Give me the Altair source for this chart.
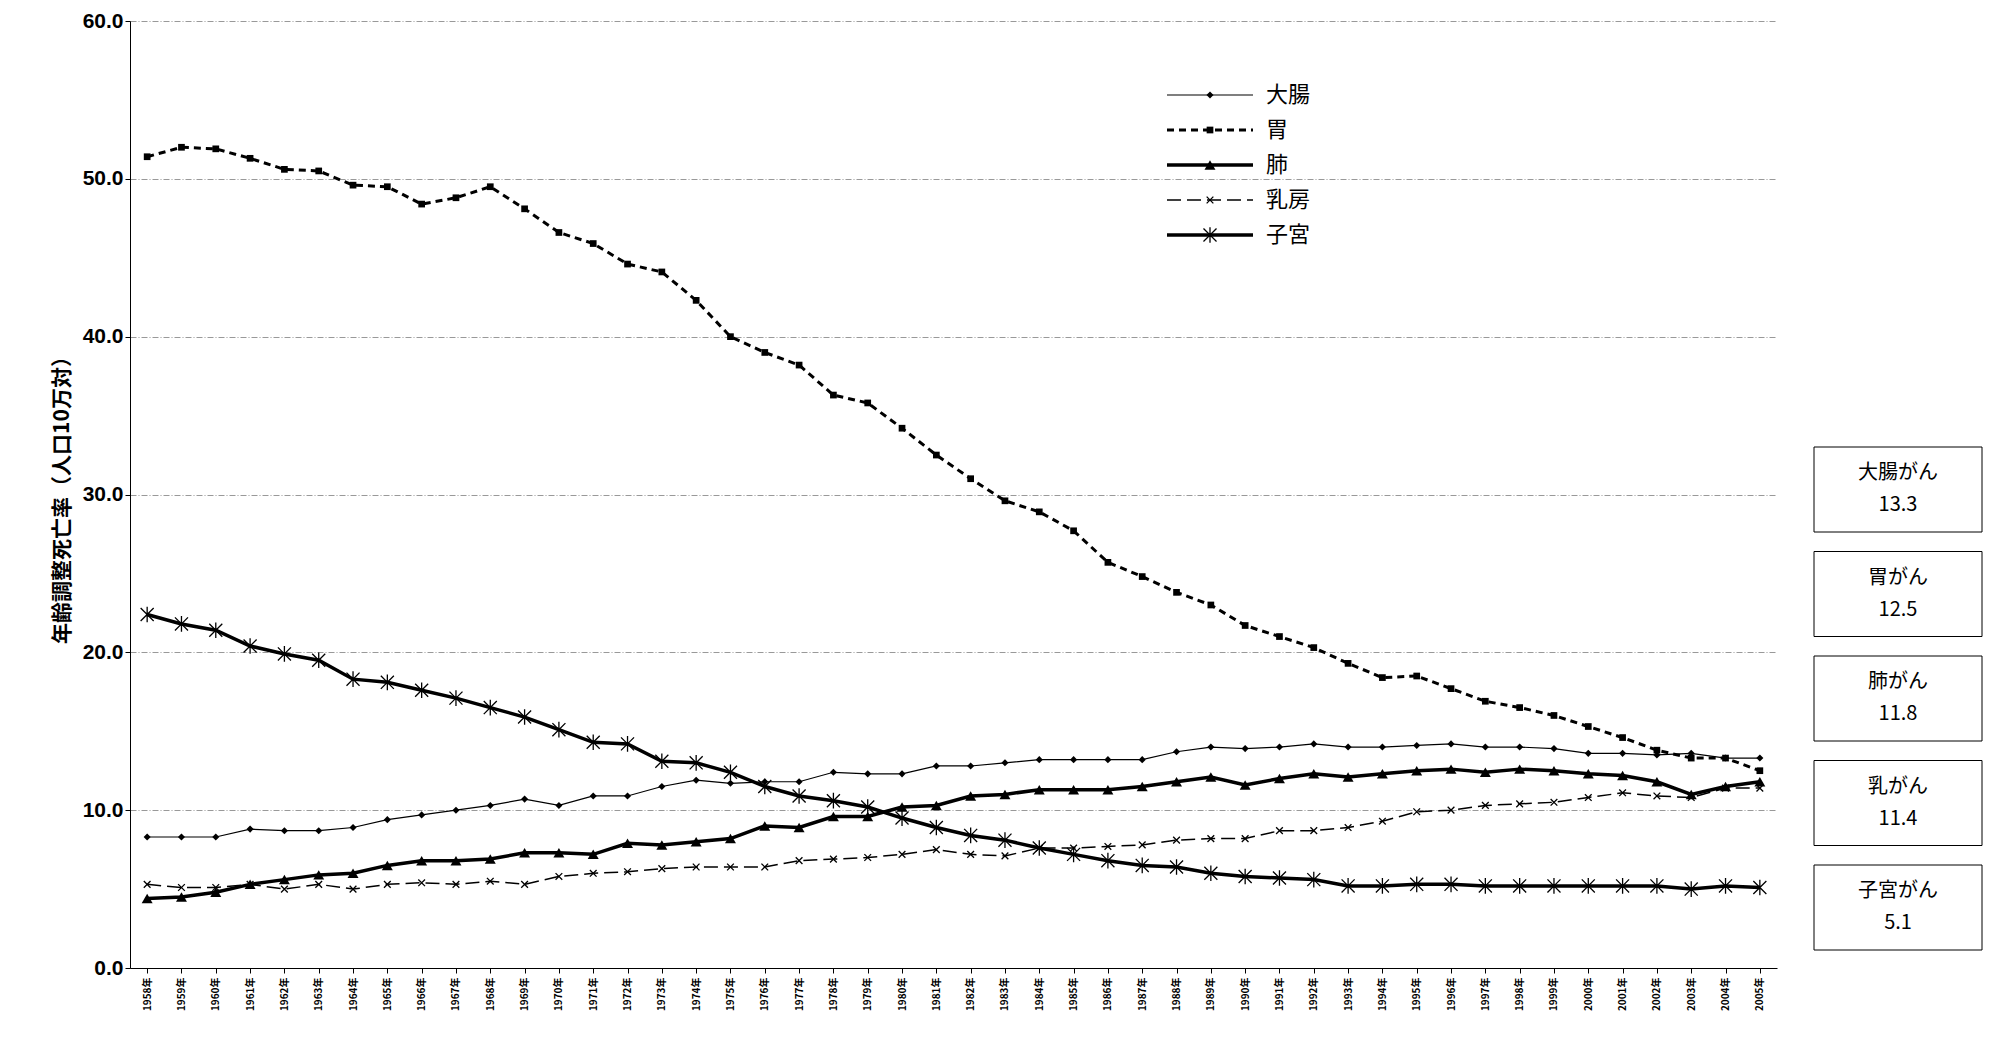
import altair as alt
import pandas as pd

years = [f"{y}年" for y in range(1958, 2006)]

colon = [8.3, 8.3, 8.3, 8.8, 8.7, 8.7, 8.9, 9.4, 9.7, 10.0, 10.3, 10.7, 10.3, 10.9, 10.9, 11.5,
         11.9, 11.7, 11.8, 11.8, 12.4, 12.3, 12.3, 12.8, 12.8, 13.0, 13.2, 13.2, 13.2, 13.2, 13.7, 14.0,
         13.9, 14.0, 14.2, 14.0, 14.0, 14.1, 14.2, 14.0, 14.0, 13.9, 13.6, 13.6, 13.5, 13.6, 13.3, 13.3]
stomach = [51.4, 52.0, 51.9, 51.3, 50.6, 50.5, 49.6, 49.5, 48.4, 48.8, 49.5, 48.1, 46.6, 45.9, 44.6, 44.1,
           42.3, 40.0, 39.0, 38.2, 36.3, 35.8, 34.2, 32.5, 31.0, 29.6, 28.9, 27.7, 25.7, 24.8, 23.8, 23.0,
           21.7, 21.0, 20.3, 19.3, 18.4, 18.5, 17.7, 16.9, 16.5, 16.0, 15.3, 14.6, 13.8, 13.3, 13.3, 12.5]
lung = [4.4, 4.5, 4.8, 5.3, 5.6, 5.9, 6.0, 6.5, 6.8, 6.8, 6.9, 7.3, 7.3, 7.2, 7.9, 7.8,
        8.0, 8.2, 9.0, 8.9, 9.6, 9.6, 10.2, 10.3, 10.9, 11.0, 11.3, 11.3, 11.3, 11.5, 11.8, 12.1,
        11.6, 12.0, 12.3, 12.1, 12.3, 12.5, 12.6, 12.4, 12.6, 12.5, 12.3, 12.2, 11.8, 11.0, 11.5, 11.8]
breast = [5.3, 5.1, 5.1, 5.3, 5.0, 5.3, 5.0, 5.3, 5.4, 5.3, 5.5, 5.3, 5.8, 6.0, 6.1, 6.3,
          6.4, 6.4, 6.4, 6.8, 6.9, 7.0, 7.2, 7.5, 7.2, 7.1, 7.6, 7.6, 7.7, 7.8, 8.1, 8.2,
          8.2, 8.7, 8.7, 8.9, 9.3, 9.9, 10.0, 10.3, 10.4, 10.5, 10.8, 11.1, 10.9, 10.8, 11.4, 11.4]
uterus = [22.4, 21.8, 21.4, 20.4, 19.9, 19.5, 18.3, 18.1, 17.6, 17.1, 16.5, 15.9, 15.1, 14.3, 14.2, 13.1,
          13.0, 12.4, 11.5, 10.9, 10.6, 10.2, 9.5, 8.9, 8.4, 8.1, 7.6, 7.2, 6.8, 6.5, 6.4, 6.0,
          5.8, 5.7, 5.6, 5.2, 5.2, 5.3, 5.3, 5.2, 5.2, 5.2, 5.2, 5.2, 5.2, 5.0, 5.2, 5.1]

box_labels = ["大腸がん", "胃がん", "肺がん", "乳がん", "子宮がん"]
box_values = ["13.3", "12.5", "11.8", "11.4", "5.1"]

XSHAPE = "M-1,-1L1,1M-1,1L1,-1"
ASTER = "M-1,-1L1,1M-1,1L1,-1M0,-1.2L0,1.2"

# name, values, line width, dash, shape, marker size, filled
series = [
    ("大腸", colon, 1.2, [], "diamond", 50, True),
    ("胃", stomach, 3, [7, 5], "square", 45, True),
    ("肺", lung, 3.5, [], "triangle-up", 120, True),
    ("乳房", breast, 1.5, [14, 6], XSHAPE, 45, False),
    ("子宮", uterus, 3.5, [], ASTER, 170, False),
]

# whole chart size (autosize fit); plot area ends up about 1648 x 940
W, H = 1979, 1022
PW = 1648
xs = alt.Scale(domain=years, padding=0.5)
ys = alt.Scale(domain=[0, 60])

layers = []
for i, (name, vals, lw, dash, shape, size, filled) in enumerate(series):
    df = pd.DataFrame({"year": years, "v": vals})
    enc = dict(x=alt.X("year:O", scale=xs, sort=years), y=alt.Y("v:Q", scale=ys))
    layers.append(alt.Chart(df).mark_line(color="black", strokeWidth=lw, strokeDash=dash).encode(**enc))
    pt = dict(shape=shape, size=size, color="black", opacity=1)
    if filled:
        pt.update(filled=True)
    else:
        pt.update(filled=False, strokeWidth=1.3)
    layers.append(alt.Chart(df).mark_point(**pt).encode(**enc))

    # legend entry
    ly = 74 + i * 35
    leg = pd.DataFrame({"n": [name]})
    layers.append(alt.Chart(leg).mark_rule(color="black", strokeWidth=lw, strokeDash=dash).encode(
        x=alt.value(1037), x2=alt.value(1123), y=alt.value(ly)))
    layers.append(alt.Chart(leg).mark_point(**pt).encode(x=alt.value(1080), y=alt.value(ly)))
    layers.append(alt.Chart(leg).mark_text(align="left", fontSize=22, font="Noto Sans CJK JP").encode(
        x=alt.value(1136), y=alt.value(ly), text="n:N"))

box_df = pd.DataFrame({"label": box_labels, "val": box_values, "i": list(range(5))})
for i in range(5):
    top = 426 + i * 104.5
    b = box_df[box_df.i == i]
    layers.append(alt.Chart(b).mark_rect(fill="white", stroke="black", strokeWidth=1).encode(
        x=alt.value(PW + 36), x2=alt.value(PW + 204), y=alt.value(top), y2=alt.value(top + 85)))
    layers.append(alt.Chart(b).mark_text(fontSize=20, font="Noto Sans CJK JP").encode(
        x=alt.value(PW + 120), y=alt.value(top + 26), text="label:N"))
    layers.append(alt.Chart(b).mark_text(fontSize=20, font="Noto Sans CJK JP").encode(
        x=alt.value(PW + 120), y=alt.value(top + 58), text="val:N"))

chart = alt.layer(*layers).encode(
    x=alt.X("year:O", scale=xs, sort=years, title=None,
            axis=alt.Axis(labelAngle=-90, labelFontSize=10, labelFontWeight="bold", labelColor="black",
                          labelFont="Noto Sans CJK JP", domainColor="black", tickColor="black", labelPadding=4)),
    y=alt.Y("v:Q", scale=ys, title="年齢調整死亡率（人口10万対）",
            axis=alt.Axis(values=[0, 10, 20, 30, 40, 50, 60], format=".1f", labelFontSize=21,
                          labelFontWeight="bold", labelColor="black", labelFont="Liberation Sans",
                          titleFont="Noto Sans CJK JP", titleFontSize=21, titleFontWeight="bold",
                          titleColor="black", domainColor="black", tickColor="black",
                          gridColor="#999", gridDash=[6, 2, 1, 2], gridWidth=1, titlePadding=10)),
).properties(
    width=W, height=H,
    autosize=alt.AutoSizeParams(type="fit", contains="padding"),
    padding={"left": 43, "top": 2, "right": 210, "bottom": 19},
).configure_view(stroke=None)

chart.save("out.html", embed_options={"renderer": "svg", "actions": False})
